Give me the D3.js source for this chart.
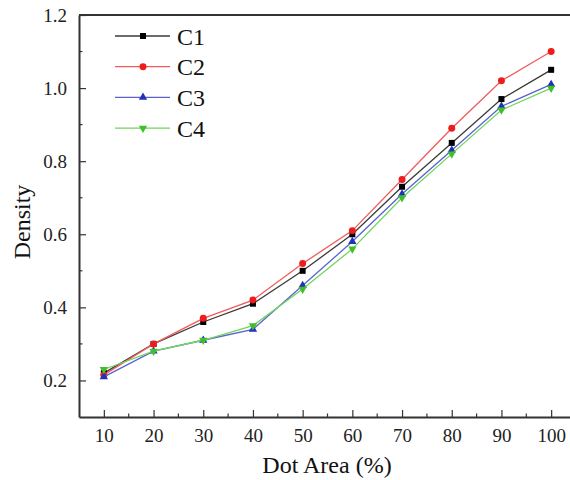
<!DOCTYPE html>
<html>
<head>
<meta charset="utf-8">
<script src="https://cdn.jsdelivr.net/npm/d3@7/dist/d3.min.js"></script>
<style>
  html, body { margin: 0; padding: 0; background: #fff; }
  svg { display: block; }
</style>
</head>
<body>
<svg id="chart" width="570" height="480"></svg>
<script>
// Dot area (%) on the x axis
const dotArea = [10, 20, 30, 40, 50, 60, 70, 80, 90, 100];

// Density for each condition
const c1 = [0.22, 0.30, 0.36, 0.41, 0.50, 0.60, 0.73, 0.85, 0.97, 1.05];
const c2 = [0.215, 0.30, 0.37, 0.42, 0.52, 0.61, 0.75, 0.89, 1.02, 1.10];
const c3 = [0.21, 0.28, 0.31, 0.34, 0.46, 0.58, 0.71, 0.83, 0.95, 1.01];
const c4 = [0.23, 0.28, 0.31, 0.35, 0.45, 0.56, 0.70, 0.82, 0.94, 1.00];

const seriesNames = ["C1", "C2", "C3", "C4"];
const xTicks = [10, 20, 30, 40, 50, 60, 70, 80, 90, 100];
const yTicks = [0.2, 0.4, 0.6, 0.8, 1.0, 1.2];

const series = [
  { name: seriesNames[0], values: c1, line: "#3a3a3a", mark: "#000000", shape: "square" },
  { name: seriesNames[1], values: c2, line: "#f25a5a", mark: "#ee1c1c", shape: "circle" },
  { name: seriesNames[2], values: c3, line: "#5b62d0", mark: "#2231b8", shape: "triangle" },
  { name: seriesNames[3], values: c4, line: "#6fd65a", mark: "#3fc02a", shape: "triangleDown" }
];

const FONT = '"Liberation Serif", "Times New Roman", serif';
const svg = d3.select("#chart");
const plotLeft = 79, plotTop = 15, plotBottom = 417, plotRight = 576;

const x = d3.scaleLinear().domain([5, 105]).range([plotLeft, plotRight]);
const y = d3.scaleLinear().domain([0.1, 1.2]).range([plotBottom, plotTop]);

// frame (top and right edges)
svg.append("path")
  .attr("d", `M${plotLeft},${plotTop}H${plotRight}V${plotBottom}`)
  .attr("fill", "none").attr("stroke", "#333").attr("stroke-width", 2);

// minor ticks
const gMinor = svg.append("g").attr("stroke", "#333").attr("stroke-width", 1.2);
d3.range(15, 105, 10).forEach(v => {
  gMinor.append("line").attr("x1", x(v)).attr("x2", x(v)).attr("y1", plotBottom).attr("y2", plotBottom - 3.5);
});
[0.3, 0.5, 0.7, 0.9, 1.1].forEach(v => {
  gMinor.append("line").attr("y1", y(v)).attr("y2", y(v)).attr("x1", plotLeft).attr("x2", plotLeft + 3.5);
});

// x axis (ticks point inward)
const xAxis = svg.append("g")
  .attr("transform", `translate(0,${plotBottom})`)
  .call(d3.axisBottom(x).tickValues(xTicks).tickSize(-7).tickPadding(12).tickSizeOuter(0));
xAxis.select(".domain").attr("stroke", "#333").attr("stroke-width", 2);
xAxis.selectAll(".tick line").attr("stroke", "#333").attr("stroke-width", 1.2);
xAxis.selectAll(".tick text")
  .style("font-family", FONT).style("font-size", "19px").attr("fill", "#222");

// y axis (ticks point inward)
const yAxis = svg.append("g")
  .attr("transform", `translate(${plotLeft},0)`)
  .call(d3.axisLeft(y).tickValues(yTicks).tickFormat(d3.format(".1f")).tickSize(-7).tickPadding(12).tickSizeOuter(0));
yAxis.select(".domain").attr("stroke", "#333").attr("stroke-width", 2);
yAxis.selectAll(".tick line").attr("stroke", "#333").attr("stroke-width", 1.2);
yAxis.selectAll(".tick text")
  .style("font-family", FONT).style("font-size", "19px").attr("fill", "#222");

// axis titles
svg.append("text")
  .attr("x", 327).attr("y", 473)
  .attr("text-anchor", "middle")
  .style("font-family", FONT).style("font-size", "24px").attr("fill", "#111")
  .text("Dot Area (%)");
svg.append("text")
  .attr("transform", "translate(30,222) rotate(-90)")
  .attr("text-anchor", "middle")
  .style("font-family", FONT).style("font-size", "24px").attr("fill", "#111")
  .text("Density");

const symbolFor = shape => {
  if (shape === "square") return d3.symbol(d3.symbolSquare, 36);
  if (shape === "circle") return d3.symbol(d3.symbolCircle, 38);
  return d3.symbol(d3.symbolTriangle, 30);
};

const line = d3.line().x((d, i) => x(dotArea[i])).y(d => y(d));

series.forEach(s => {
  const g = svg.append("g");
  g.append("path")
    .attr("d", line(s.values))
    .attr("fill", "none").attr("stroke", s.line).attr("stroke-width", 1.3);
  g.selectAll("path.m").data(s.values).join("path")
    .attr("class", "m")
    .attr("d", symbolFor(s.shape))
    .attr("transform", (d, i) => `translate(${x(dotArea[i])},${y(d)})` + (s.shape === "triangleDown" ? " rotate(180)" : ""))
    .attr("fill", s.mark);
});

// legend
const legend = svg.append("g");
series.forEach((s, i) => {
  const ly = 36 + i * 30.7;
  legend.append("line")
    .attr("x1", 115).attr("x2", 170).attr("y1", ly).attr("y2", ly)
    .attr("stroke", s.line).attr("stroke-width", 1.3);
  legend.append("path")
    .attr("d", symbolFor(s.shape))
    .attr("transform", `translate(143,${ly})` + (s.shape === "triangleDown" ? " rotate(180)" : ""))
    .attr("fill", s.mark);
  legend.append("text")
    .attr("x", 177).attr("y", ly + 8.5)
    .style("font-family", FONT).style("font-size", "24px").attr("fill", "#111")
    .text(s.name);
});
</script>
</body>
</html>
